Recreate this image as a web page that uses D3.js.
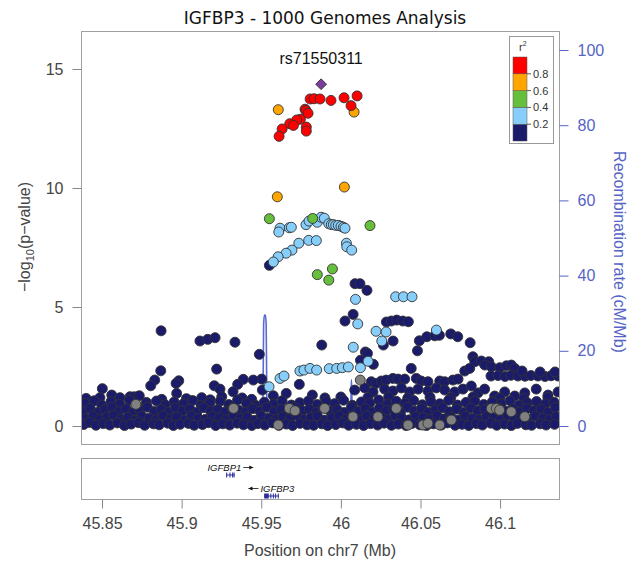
<!DOCTYPE html>
<html>
<head>
<meta charset="utf-8">
<script src="https://cdn.jsdelivr.net/npm/d3@7"></script>
<style>
  body { margin: 0; background: #fff; }
  svg { display: block; }
</style>
</head>
<body>
<svg id="chart" width="638" height="563"></svg>
<script>
// ---- data -------------------------------------------------------------
const titleText = "IGFBP3 - 1000 Genomes Analysis";
const leadSnpName = "rs71550311";
const leadSnp = [45.9876, 14.36];           // [position Mb, -log10 p]
const regionMb = [45.8368, 46.1370];
const xTicks = [45.85, 45.9, 45.95, 46, 46.05, 46.1];
const xTickLabels = ["45.85", "45.9", "45.95", "46", "46.05", "46.1"];
const pTicks = [0, 5, 10, 15];
const recTicks = [0, 20, 40, 60, 80, 100];
const r2Breaks = [0.2, 0.4, 0.6, 0.8];
const r2Colors = ["#1b1b6b", "#87cefa", "#66bf3c", "#ffa500", "#ff0000"];

// SNPs by LD class: [position Mb, -log10 p]
const redSnps = [
  [45.9807,13.74],[45.9832,13.75],[45.9869,13.74],[45.9938,13.68],[46.0020,13.79],[46.0102,13.87],
  [46.0064,13.46],[45.9775,13.31],[45.9781,13.25],[45.9794,13.14],[45.9746,12.89],[45.9723,12.86],
  [45.9679,12.70],[45.9702,12.63],[45.9783,12.56],[45.9783,12.39],[45.9631,12.48],[45.9612,12.17]
];
const orangeSnps = [[46.0083,13.19],[45.9607,13.29],[46.0022,10.04],[45.9601,9.63]];
const greenSnps = [[45.9551,8.71],[45.9823,8.72],[46.0183,8.42],[45.9852,6.36],[45.9947,6.60],[45.9924,6.13]];
const lightBlueSnps = [
  [45.9618,8.31],[45.9610,8.15],[45.9676,8.33],[45.9689,8.35],[45.9781,8.46],[45.9800,8.61],[45.9852,8.56],
  [45.9876,8.77],[45.9896,8.73],[45.9924,8.50],[45.9940,8.46],[45.9953,8.46],[45.9968,8.43],[45.9984,8.43],
  [46.0001,8.39],[46.0016,8.35],[46.0026,8.31],
  [45.9798,7.80],[45.9846,7.79],[46.0035,7.68],[46.0037,7.53],[46.0068,7.39],[45.9736,7.68],[45.9693,7.39],
  [45.9656,7.26],[45.9606,7.11],[45.9576,6.89],
  [46.0092,5.32],[46.0344,5.43],[46.0393,5.43],[46.0447,5.43],
  [46.0106,4.29],[46.0221,3.98],[46.0284,3.95],[46.0257,3.57],[46.0600,4.03],[46.0078,3.31],[46.0171,2.72],[46.0123,2.45],
  [45.9549,1.65],[45.9618,2.00],[45.9643,2.10],[45.9743,2.31],[45.9768,2.35],[45.9806,2.42],[45.9848,2.35],
  [45.9927,2.41],[45.9974,2.42],[46.0009,2.45],[46.0047,2.48]
];
const navySnps = [
  // scattered upper values
  [45.9551,6.75],[46.0089,5.98],[46.0120,5.98],[46.0164,5.70],
  [46.0077,4.69],[46.0026,4.41],[46.0286,4.37],[46.0317,4.41],[46.0351,4.45],[46.0389,4.41],[46.0424,4.38],
  [46.0267,3.40],[46.0328,3.57],[46.0493,3.58],[46.0540,3.75],[46.0590,3.79],[46.0619,3.81],[46.0690,3.87],
  [46.0734,3.75],[46.0812,3.50],
  [45.9880,3.40],[46.0481,3.16],[46.0154,3.11],[46.0167,3.05],[46.0123,2.76],[46.0204,2.59],
  [46.0829,2.91],[46.0841,2.70],[46.0883,2.73],[46.0929,2.70],[46.0904,2.56],[46.0945,2.49],[46.0998,2.45],
  [46.1040,2.53],[46.1071,2.56],[46.1092,2.42],
  [46.0943,2.10],[46.0987,2.12],[46.1031,2.08],[46.1069,2.13],[46.1112,2.10],[46.1156,2.09],[46.1194,2.12],
  [46.1238,2.10],[46.1282,2.08],[46.1320,2.11],[46.1364,2.10],[46.1138,2.31],[46.1251,2.27],[46.1345,2.27],
  [45.8871,4.00],[45.9115,3.57],[45.9164,3.64],[45.9210,3.71],[45.9335,3.52],[45.9488,3.01],
  [45.8869,2.32],[45.9220,2.39],[45.9503,1.97],[45.9450,1.93],[45.9387,1.96],[45.9352,1.75],[45.8982,1.90],
  [45.8965,1.79],[45.8831,1.93],[45.8806,1.69],[45.9323,1.44],[45.9205,1.69],[45.9241,1.55],[45.9739,1.75],
  [45.8502,1.57],
  // raised band between 46.02 and 46.08
  [46.0191,1.86],[46.0223,1.79],[46.0254,1.89],[46.0285,1.93],[46.0327,2.00],[46.0359,1.97],[46.0401,1.97],
  [46.0442,2.42],[46.0474,2.00],[46.0505,1.89],[46.0547,1.86],[46.0621,1.89],[46.0652,1.86],[46.0704,1.93],
  [46.0736,1.97],[46.0778,2.31],[46.0809,2.42],
  [46.0087,1.51],[46.0150,1.60],[46.0202,1.43],[46.0275,1.55],[46.0327,1.47],[46.0380,1.60],[46.0432,1.43],
  [46.0485,1.55],[46.0547,1.47],[46.0599,1.60],[46.0652,1.51],[46.0715,1.43],[46.0767,1.55],[46.0819,1.68],
  [46.0861,1.39],[46.0903,1.55],[46.0966,1.26],[46.1029,1.43],[46.1092,1.26],[46.1155,1.39],[46.1227,1.55],
  [46.1301,1.30],[46.1364,1.43],
  // upper edge of the dense band
  [45.8400,1.16],[45.8487,1.19],[45.8561,1.30],[45.8613,1.19],[45.8676,1.23],[45.8703,1.23],[45.8734,1.27],
  [45.8875,1.12],[45.8969,1.37],[45.9030,1.15],[45.9126,1.19],[45.9180,1.10],[45.9252,1.23],[45.9380,1.18],
  [45.9440,1.12],[45.9507,1.51],[45.9576,1.27],[45.9657,1.37],[45.9821,1.30],[45.9900,1.18],[46.0000,1.22],
  [46.0170,1.20],[46.0300,1.22],[46.0420,1.17],[46.0560,1.21],[46.0690,1.19],[46.0830,1.22],[46.1000,1.18],
  [46.1150,1.15],[46.1300,1.20],
  // dense band, row near 1.0
  [45.8392,0.95],[45.8451,1.06],[45.8498,0.88],[45.8556,1.02],[45.8611,0.91],[45.8672,1.08],[45.8718,0.86],
  [45.8779,0.99],[45.8842,1.05],[45.8897,0.89],[45.8953,1.01],[45.9011,0.93],[45.9069,1.07],[45.9122,0.87],
  [45.9177,0.97],[45.9242,1.04],[45.9296,0.90],[45.9351,1.09],[45.9408,0.94],[45.9467,0.86],[45.9519,1.00],
  [45.9577,0.92],[45.9631,1.06],[45.9689,0.88],[45.9741,0.98],[45.9796,1.05],[45.9852,0.90],[45.9908,1.03],
  [45.9961,0.94],[46.0017,1.08],[46.0072,0.87],[46.0129,1.01],[46.0181,0.96],[46.0238,1.09],[46.0291,0.91],
  [46.0348,1.04],[46.0402,0.95],[46.0457,1.07],[46.0512,0.89],[46.0566,1.02],[46.0621,0.93],[46.0677,1.08],
  [46.0732,0.88],[46.0786,0.99],[46.0841,1.05],[46.0897,0.90],[46.0951,1.01],[46.1007,0.94],[46.1063,1.06],
  [46.1118,0.87],[46.1172,0.97],[46.1229,1.03],[46.1284,0.92],[46.1339,1.00],
  // dense band, row near 0.65
  [45.8381,0.62],[45.8426,0.74],[45.8473,0.57],[45.8519,0.69],[45.8563,0.78],[45.8604,0.60],[45.8651,0.72],
  [45.8693,0.56],[45.8739,0.67],[45.8785,0.79],[45.8829,0.61],[45.8871,0.70],[45.8918,0.58],[45.8961,0.76],
  [45.9006,0.64],[45.9052,0.71],[45.9095,0.57],[45.9138,0.77],[45.9182,0.63],[45.9226,0.69],[45.9271,0.59],
  [45.9316,0.75],[45.9358,0.66],[45.9403,0.58],[45.9447,0.73],[45.9492,0.62],[45.9536,0.79],[45.9581,0.60],
  [45.9625,0.70],[45.9668,0.56],[45.9713,0.77],[45.9759,0.64],[45.9802,0.71],[45.9846,0.58],[45.9889,0.75],
  [45.9933,0.63],[45.9977,0.69],[46.0022,0.57],[46.0066,0.78],[46.0111,0.61],[46.0154,0.72],[46.0198,0.59],
  [46.0243,0.76],[46.0286,0.65],[46.0331,0.70],[46.0374,0.56],[46.0419,0.79],[46.0462,0.62],[46.0507,0.73],
  [46.0551,0.58],[46.0594,0.68],[46.0639,0.77],[46.0683,0.60],[46.0727,0.71],[46.0772,0.57],[46.0815,0.75],
  [46.0859,0.64],[46.0904,0.69],[46.0947,0.58],[46.0992,0.76],[46.1036,0.62],[46.1081,0.72],[46.1124,0.59],
  [46.1169,0.74],[46.1213,0.65],[46.1258,0.70],[46.1301,0.57],[46.1347,0.78],
  // dense band, row near 0.35
  [45.8398,0.31],[45.8443,0.42],[45.8487,0.27],[45.8531,0.38],[45.8572,0.45],[45.8619,0.29],[45.8662,0.36],
  [45.8706,0.24],[45.8751,0.41],[45.8796,0.33],[45.8838,0.27],[45.8883,0.44],[45.8927,0.30],[45.8969,0.38],
  [45.9018,0.25],[45.9061,0.43],[45.9104,0.32],[45.9149,0.28],[45.9193,0.40],[45.9236,0.35],[45.9282,0.26],
  [45.9327,0.44],[45.9369,0.31],[45.9412,0.37],[45.9458,0.24],[45.9501,0.42],[45.9549,0.33],[45.9592,0.28],
  [45.9636,0.39],[45.9679,0.30],[45.9722,0.45],[45.9767,0.27],[45.9811,0.36],[45.9853,0.41],[45.9899,0.25],
  [45.9942,0.34],[45.9988,0.43],[46.0031,0.29],[46.0076,0.37],[46.0121,0.26],[46.0163,0.42],[46.0209,0.31],
  [46.0252,0.38],[46.0296,0.27],[46.0341,0.44],[46.0383,0.33],[46.0429,0.26],[46.0471,0.40],[46.0518,0.35],
  [46.0561,0.28],[46.0604,0.43],[46.0648,0.30],[46.0692,0.37],[46.0737,0.25],[46.0781,0.41],[46.0826,0.32],
  [46.0868,0.27],[46.0913,0.39],[46.0958,0.34],[46.1002,0.26],[46.1047,0.44],[46.1089,0.31],[46.1133,0.38],
  [46.1178,0.28],[46.1221,0.42],[46.1267,0.33],[46.1311,0.27],[46.1352,0.40],
  // dense band, bottom row
  [45.8385,0.06],[45.8421,0.15],[45.8462,0.03],[45.8508,0.10],[45.8549,0.04],[45.8597,0.13],[45.8641,0.02],
  [45.8683,0.08],[45.8729,0.14],[45.8768,0.03],[45.8824,0.09],[45.8859,0.05],[45.8912,0.12],[45.8948,0.02],
  [45.8991,0.07],[45.9043,0.11],[45.9079,0.03],[45.9131,0.06],[45.9168,0.14],[45.9214,0.02],[45.9259,0.09],
  [45.9302,0.04],[45.9349,0.12],[45.9388,0.05],[45.9441,0.02],[45.9479,0.10],[45.9523,0.04],[45.9571,0.13],
  [45.9612,0.03],[45.9658,0.08],[45.9697,0.02],[45.9743,0.11],[45.9788,0.05],[45.9829,0.03],[45.9881,0.09],
  [45.9917,0.02],[45.9968,0.06],[46.0012,0.13],[46.0049,0.03],[46.0098,0.07],[46.0143,0.02],[46.0187,0.10],
  [46.0231,0.04],[46.0272,0.12],[46.0318,0.03],[46.0361,0.08],[46.0409,0.02],[46.0448,0.11],[46.0497,0.05],
  [46.0538,0.02],[46.0582,0.09],[46.0631,0.04],[46.0669,0.13],[46.0718,0.03],[46.0761,0.07],[46.0803,0.02],
  [46.0852,0.10],[46.0889,0.04],[46.0941,0.12],[46.0979,0.03],[46.1028,0.08],[46.1071,0.02],[46.1109,0.11],
  [46.1162,0.05],[46.1198,0.03],[46.1251,0.09],[46.1289,0.04],[46.1342,0.07]
];
// SNPs without LD information
const graySnps = [
  [45.8713,0.91],[45.9326,0.74],[45.9676,0.74],[45.9712,0.64],[45.9607,0.04],[46.0122,1.93],[45.9898,0.74],
  [46.0076,0.39],[46.0233,0.39],[46.0348,0.74],[46.0422,0.04],[46.0516,0.04],[46.0547,0.11],[46.0621,0.04],
  [46.0694,0.25],[46.0945,0.74],[46.0976,0.74],[46.0997,0.67],[46.1070,0.60],[46.1155,0.39]
];

// recombination rate (cM/Mb)
const recPos = [45.8370,45.8450,45.8600,45.8750,45.8900,45.9050,45.9200,45.9350,45.9450,45.9508,45.9512,
  45.9515,45.9520,45.9526,45.9531,45.9534,45.9538,45.9600,45.9750,45.9900,46.0000,46.0062,46.0065,46.0068,
  46.0071,46.0150,46.0220,46.0223,46.0227,46.0230,46.0350,46.0462,46.0466,46.0470,46.0474,46.0600,46.0800,
  46.1000,46.1200,46.1370];
const recRate = [0.4,0.3,0.5,0.2,0.3,0.4,0.2,0.3,0.4,0.5,12,27,29.5,29.5,27,12,0.5,0.2,0.3,0.1,0.2,0.3,
  12.2,12.2,0.3,0.2,0.3,5.1,5.1,0.3,0.2,0.3,6.0,6.0,0.3,0.4,0.3,0.3,0.4,0.3];

// genes in the region (Mb)
const geneNames = ["IGFBP1", "IGFBP3"];
const geneStrand = ["+", "-"];
const geneSpan = [[45.92796, 45.93327], [45.95184, 45.96085]];
const geneExons = [
  [[45.92796,45.92850],[45.93005,45.93040],[45.93170,45.93200],[45.93260,45.93327]],
  [[45.95184,45.95470],[45.95570,45.95605],[45.95730,45.95760],[45.95870,45.95900],[45.96040,45.96085]]
];

// ---- layout -----------------------------------------------------------
const svg = d3.select("#chart");
const plot = { left: 81, right: 559, top: 31, bottom: 444 };
const genePanel = { top: 458, bottom: 499 };
const geneRowY = [475, 496];
const labelFont = "'Liberation Sans', Arial, sans-serif";
const blueAxis = "#5564c6";

const x = d3.scaleLinear().domain(regionMb).range([plot.left, plot.right]);
const y = d3.scaleLinear().domain([0, 15]).range([426, 69]);
const rec = d3.scaleLinear().domain([0, 100]).range([426, 50]);
const r2Color = d3.scaleThreshold().domain(r2Breaks).range(r2Colors);

// title
svg.append("text")
  .attr("x", 325).attr("y", 24)
  .attr("text-anchor", "middle")
  .style("font-family", "'DejaVu Sans', sans-serif")
  .style("font-size", "17px")
  .attr("fill", "#111")
  .text(titleText);

// clip for the association panel
svg.append("clipPath").attr("id", "plotClip")
  .append("rect")
  .attr("x", plot.left).attr("y", plot.top)
  .attr("width", plot.right - plot.left).attr("height", plot.bottom - plot.top);

const panel = svg.append("g").attr("clip-path", "url(#plotClip)");

// recombination rate line
const recData = recPos.map((p, i) => [p, recRate[i]]);
panel.append("path")
  .datum(recData)
  .attr("fill", "none")
  .attr("stroke", "#5a6ad4")
  .attr("stroke-width", 1.6)
  .attr("d", d3.line().x(d => x(d[0])).y(d => rec(d[1])).curve(d3.curveMonotoneX));

// SNP points, low LD first so high LD sits on top
const groups = [
  { r2: 0.1, pts: navySnps },
  { r2: null, pts: graySnps },
  { r2: 0.3, pts: lightBlueSnps },
  { r2: 0.5, pts: greenSnps },
  { r2: 0.7, pts: orangeSnps },
  { r2: 0.9, pts: redSnps }
];
groups.forEach(g => {
  panel.append("g").selectAll("circle")
    .data(g.pts)
    .join("circle")
    .attr("cx", d => x(d[0]))
    .attr("cy", d => y(d[1]))
    .attr("r", 5)
    .attr("fill", g.r2 === null ? "#808080" : r2Color(g.r2))
    .attr("stroke", "#333")
    .attr("stroke-width", 0.9);
});

// lead SNP
panel.append("path")
  .attr("d", d3.symbol().type(d3.symbolSquare).size(58)())
  .attr("transform", `translate(${x(leadSnp[0])},${y(leadSnp[1])}) rotate(45)`)
  .attr("fill", "#7b3d9e")
  .attr("stroke", "#333")
  .attr("stroke-width", 0.9);

svg.append("text")
  .attr("x", x(leadSnp[0])).attr("y", 64)
  .attr("text-anchor", "middle")
  .style("font-family", labelFont)
  .style("font-size", "16px")
  .attr("fill", "#111")
  .text(leadSnpName);

// panel frame
svg.append("rect")
  .attr("x", plot.left + 0.5).attr("y", plot.top + 0.5)
  .attr("width", plot.right - plot.left).attr("height", plot.bottom - plot.top)
  .attr("fill", "none").attr("stroke", "#a0a0a0").attr("stroke-width", 1);

// left axis
const leftAxis = svg.append("g")
  .attr("transform", `translate(${plot.left + 0.5},0)`)
  .call(d3.axisLeft(y).tickValues(pTicks).tickSize(9).tickPadding(9));
leftAxis.select(".domain").remove();
leftAxis.selectAll("line").attr("stroke", "#888");
leftAxis.selectAll("text")
  .style("font-family", labelFont).style("font-size", "16px").attr("fill", "#444");

// right axis
const rightAxis = svg.append("g")
  .attr("transform", `translate(${plot.right + 0.5},0)`)
  .call(d3.axisRight(rec).tickValues(recTicks).tickSize(9).tickPadding(9));
rightAxis.select(".domain").remove();
rightAxis.selectAll("line").attr("stroke", blueAxis);
rightAxis.selectAll("text")
  .style("font-family", labelFont).style("font-size", "16px").attr("fill", blueAxis);

// axis titles
const yTitle = svg.append("text")
  .attr("transform", "translate(30,237) rotate(-90)")
  .attr("text-anchor", "middle")
  .style("font-family", labelFont).style("font-size", "16px").attr("fill", "#444");
yTitle.append("tspan").text("\u2212log");
yTitle.append("tspan").attr("dy", 4).style("font-size", "11px").text("10");
yTitle.append("tspan").attr("dy", -4).text("(p\u2212value)");

svg.append("text")
  .attr("transform", "translate(614,252) rotate(90)")
  .attr("text-anchor", "middle")
  .style("font-family", labelFont).style("font-size", "16px").attr("fill", blueAxis)
  .text("Recombination rate (cM/Mb)");

// legend
const legendY = d3.scaleLinear().domain([0, 1]).range([141, 57]);
const legend = svg.append("g");
legend.append("rect")
  .attr("x", 509.5).attr("y", 36.5).attr("width", 44).attr("height", 107)
  .attr("fill", "#fff").attr("stroke", "#999");
const legendText = legend.append("text")
  .attr("x", 519).attr("y", 51)
  .style("font-family", labelFont).style("font-size", "11px").attr("fill", "#333");
legendText.append("tspan").text("r");
legendText.append("tspan").attr("dy", -5).style("font-size", "7px").text("2");
const bins = [0].concat(r2Breaks).map((lo, i, arr) => [lo, i < r2Breaks.length ? r2Breaks[i] : 1]);
legend.selectAll("rect.bin")
  .data(bins)
  .join("rect")
  .attr("class", "bin")
  .attr("x", 513).attr("width", 14)
  .attr("y", d => legendY(d[1]))
  .attr("height", d => legendY(d[0]) - legendY(d[1]))
  .attr("fill", d => r2Color((d[0] + d[1]) / 2))
  .attr("stroke", "#555").attr("stroke-width", 0.5);
legend.selectAll("line.tk")
  .data(r2Breaks)
  .join("line")
  .attr("class", "tk")
  .attr("x1", 527).attr("x2", 531)
  .attr("y1", d => legendY(d)).attr("y2", d => legendY(d))
  .attr("stroke", "#555");
legend.selectAll("text.tk")
  .data(r2Breaks)
  .join("text")
  .attr("class", "tk")
  .attr("x", 533).attr("y", d => legendY(d) + 4)
  .style("font-family", labelFont).style("font-size", "11px").attr("fill", "#333")
  .text(d => d3.format(".1f")(d));

// gene panel
svg.append("rect")
  .attr("x", plot.left + 0.5).attr("y", genePanel.top + 0.5)
  .attr("width", plot.right - plot.left).attr("height", genePanel.bottom - genePanel.top)
  .attr("fill", "none").attr("stroke", "#a0a0a0");

const geneColor = "#2b2ba0";
geneNames.forEach((name, i) => {
  const g = svg.append("g");
  const yy = geneRowY[i];
  const [s, e] = geneSpan[i];
  g.append("line")
    .attr("x1", x(s)).attr("x2", x(e)).attr("y1", yy).attr("y2", yy)
    .attr("stroke", geneColor).attr("stroke-width", 1);
  g.selectAll("rect")
    .data(geneExons[i])
    .join("rect")
    .attr("x", d => x(d[0]))
    .attr("width", d => Math.max(1, x(d[1]) - x(d[0])))
    .attr("y", yy - 2.5).attr("height", 5)
    .attr("fill", geneColor);
  const mid = (x(s) + x(e)) / 2;
  const label = g.append("text")
    .attr("y", yy - 4.5)
    .style("font-family", labelFont).style("font-size", "9.5px")
    .style("font-style", "italic").attr("fill", "#111")
    .text(name);
  const tw = label.node().getComputedTextLength();
  const arrowLen = 10, gap = 2;
  const total = tw + gap + arrowLen;
  const left = mid - total / 2;
  const ay = yy - 7.5;
  let ax1, ax2;
  if (geneStrand[i] === "+") {
    label.attr("x", left);
    ax1 = left + tw + gap; ax2 = ax1 + arrowLen;
  } else {
    label.attr("x", left + arrowLen + gap);
    ax1 = left + arrowLen; ax2 = left;
  }
  g.append("line")
    .attr("x1", ax1).attr("x2", ax2).attr("y1", ay).attr("y2", ay)
    .attr("stroke", "#111").attr("stroke-width", 0.8);
  const dir = ax2 > ax1 ? 1 : -1;
  g.append("path")
    .attr("d", `M${ax2},${ay} L${ax2 - dir * 4},${ay - 2} L${ax2 - dir * 4},${ay + 2} Z`)
    .attr("fill", "#111");
});

// x axis under the gene panel
const xAxis = svg.append("g")
  .attr("transform", `translate(0,${genePanel.bottom + 0.5})`)
  .call(d3.axisBottom(x).tickValues(xTicks).tickFormat((d, i) => xTickLabels[i]).tickSize(9).tickPadding(9));
xAxis.select(".domain").remove();
xAxis.selectAll("line").attr("stroke", "#888");
xAxis.selectAll("text")
  .style("font-family", labelFont).style("font-size", "16px").attr("fill", "#444");

svg.append("text")
  .attr("x", (plot.left + plot.right) / 2).attr("y", 556)
  .attr("text-anchor", "middle")
  .style("font-family", labelFont).style("font-size", "16px").attr("fill", "#444")
  .text("Position on chr7 (Mb)");
</script>
</body>
</html>
